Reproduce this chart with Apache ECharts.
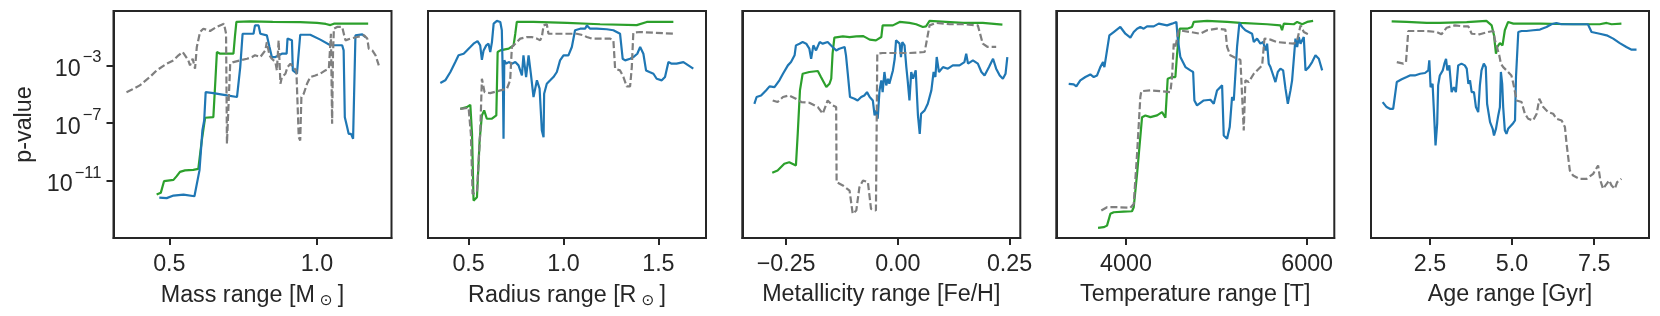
<!DOCTYPE html>
<html><head><meta charset="utf-8">
<script src="https://cdn.jsdelivr.net/npm/echarts@6/dist/echarts.min.js"></script>
<style>html,body{margin:0;padding:0;background:#fff}#c{width:1660px;height:316px}</style>
</head><body><div id="c"></div>
<script>
// y values are log10(p-value)
const massGreen = [[0.457,-11.98],[0.471,-11.86],[0.482,-11.05],[0.514,-10.96],[0.525,-10.7],[0.536,-10.4],[0.553,-10.3],[0.581,-10.26],[0.598,-10.2],[0.610,-8.2],[0.621,-6.64],[0.649,-6.6],[0.656,-4.0],[0.661,-2.07],[0.672,-2.19],[0.717,-2.19],[0.722,-1.0],[0.727,0.02],[0.774,0.06],[0.85,0.03],[0.943,0.0],[1.0,-0.05],[1.03,-0.12],[1.045,-0.2],[1.057,-0.1],[1.173,-0.1]];
const massBlue = [[0.466,-12.2],[0.491,-12.23],[0.514,-12.05],[0.548,-11.98],[0.585,-12.1],[0.602,-10.3],[0.612,-7.5],[0.618,-6.83],[0.623,-4.86],[0.649,-4.93],[0.695,-5.09],[0.729,-5.2],[0.74,-3.12],[0.748,-0.8],[0.785,-0.8],[0.79,-0.22],[0.802,-0.22],[0.808,-0.8],[0.83,-0.91],[0.839,-1.72],[0.847,-2.42],[0.859,-2.42],[0.864,-2.3],[0.881,-2.19],[0.897,-2.19],[0.9,-1.14],[0.915,-1.26],[0.918,-3.35],[0.932,-3.58],[0.938,-3.53],[0.943,-0.87],[0.977,-0.87],[1.011,-1.21],[1.045,-1.6],[1.085,-1.6],[1.09,-1.96],[1.094,-6.6],[1.102,-7.3],[1.107,-7.76],[1.115,-7.76],[1.122,-8.1],[1.127,-3.58],[1.13,-0.91],[1.153,-0.84],[1.164,-1.03]];
const massGray = [[0.355,-4.86],[0.372,-4.7],[0.4,-4.39],[0.434,-3.81],[0.457,-3.35],[0.491,-2.88],[0.514,-2.65],[0.531,-2.3],[0.545,-2.07],[0.553,-2.3],[0.564,-2.65],[0.57,-3.0],[0.579,-2.54],[0.587,-3.23],[0.593,-1.72],[0.604,-0.68],[0.615,-0.45],[0.638,-0.61],[0.66,-0.33],[0.685,-0.1],[0.692,-0.8],[0.695,-8.45],[0.7,-8.57],[0.706,-2.88],[0.717,-2.77],[0.74,-2.65],[0.763,-2.54],[0.78,-2.42],[0.79,-2.3],[0.808,-2.42],[0.825,-1.96],[0.83,-1.38],[0.839,-2.3],[0.847,-2.54],[0.859,-2.77],[0.864,-3.35],[0.87,-1.26],[0.876,-4.28],[0.881,-3.81],[0.893,-3.58],[0.9,-3.12],[0.91,-2.88],[0.918,-3.12],[0.93,-3.35],[0.938,-7.99],[0.943,-8.22],[0.947,-5.2],[0.955,-4.97],[0.966,-4.28],[0.977,-3.81],[0.994,-3.7],[1.011,-3.58],[1.028,-3.35],[1.04,-3.23],[1.047,-0.8],[1.051,-7.06],[1.054,-2.19],[1.057,-0.45],[1.068,-0.33],[1.085,-0.33],[1.096,-1.26],[1.113,-1.14],[1.136,-1.03],[1.159,-0.91],[1.17,-1.14],[1.175,-1.84],[1.187,-1.96],[1.198,-2.3],[1.209,-3.0]];

const radiusGreen = [[0.456,-6.02],[0.491,-5.9],[0.509,-5.74],[0.518,-7.76],[0.526,-12.4],[0.544,-12.17],[0.558,-8.22],[0.57,-6.48],[0.582,-6.13],[0.596,-6.71],[0.623,-6.71],[0.646,-6.48],[0.653,-2.07],[0.667,-1.96],[0.711,-1.84],[0.737,-1.61],[0.746,-0.8],[0.754,0.02],[0.842,0.02],[1.018,-0.05],[1.193,-0.14],[1.386,-0.2],[1.439,0.02],[1.579,0.02]];
const radiusBlue = [[0.351,-4.23],[0.377,-4.04],[0.404,-3.46],[0.43,-2.77],[0.447,-2.3],[0.474,-2.19],[0.491,-1.96],[0.509,-1.72],[0.526,-1.49],[0.547,-1.31],[0.561,-1.61],[0.57,-2.61],[0.579,-1.96],[0.593,-1.61],[0.605,-1.49],[0.614,-2.07],[0.623,-1.38],[0.632,-0.1],[0.649,0.09],[0.667,0.02],[0.675,-0.56],[0.681,-4.28],[0.684,-8.1],[0.688,-2.65],[0.698,-2.88],[0.711,-2.77],[0.728,-2.88],[0.746,-2.77],[0.763,-3.0],[0.781,-3.7],[0.789,-2.3],[0.803,-3.81],[0.816,-2.3],[0.828,-3.58],[0.842,-5.2],[0.86,-4.04],[0.874,-4.62],[0.886,-7.52],[0.895,-7.99],[0.898,-4.97],[0.912,-4.28],[0.93,-4.04],[0.947,-3.81],[0.965,-3.46],[0.982,-2.65],[1.0,-2.3],[1.026,-2.3],[1.044,-1.72],[1.061,-0.56],[1.088,-0.45],[1.114,-0.45],[1.123,-0.22],[1.14,-0.45],[1.175,-0.45],[1.228,-0.49],[1.263,-0.56],[1.298,-0.8],[1.312,-2.54],[1.325,-2.65],[1.351,-2.54],[1.368,-2.42],[1.389,-2.19],[1.404,-1.72],[1.421,-2.19],[1.435,-3.35],[1.453,-3.46],[1.474,-3.58],[1.491,-3.93],[1.518,-4.04],[1.535,-3.81],[1.553,-2.77],[1.57,-2.88],[1.596,-2.88],[1.632,-2.77],[1.658,-3.0],[1.684,-3.23]];
const radiusGray = [[0.456,-6.02],[0.5,-5.95],[0.512,-7.76],[0.521,-11.94],[0.544,-11.8],[0.561,-7.76],[0.57,-3.93],[0.579,-4.04],[0.584,-4.86],[0.614,-4.93],[0.667,-4.74],[0.702,-4.62],[0.719,-4.04],[0.728,-1.72],[0.754,-1.38],[0.772,-1.14],[0.807,-1.03],[0.833,-1.03],[0.86,-1.14],[0.877,-1.26],[0.886,-1.03],[0.895,-0.22],[0.912,-0.14],[0.921,-0.8],[0.947,-0.8],[1.018,-0.8],[1.07,-0.8],[1.105,-0.91],[1.123,-1.03],[1.149,-1.14],[1.193,-1.14],[1.246,-1.14],[1.263,-1.26],[1.272,-3.23],[1.298,-3.35],[1.316,-3.81],[1.333,-4.46],[1.351,-4.46],[1.36,-3.12],[1.368,-0.73],[1.404,-0.68],[1.474,-0.73],[1.579,-0.8]];

const metalGreen = [[-0.281,-10.47],[-0.269,-10.31],[-0.254,-9.84],[-0.243,-9.73],[-0.228,-9.96],[-0.224,-7.76],[-0.219,-4.74],[-0.213,-3.58],[-0.198,-3.46],[-0.179,-3.39],[-0.172,-3.81],[-0.16,-4.51],[-0.153,-4.28],[-0.149,-3.93],[-0.146,-2.19],[-0.142,-1.07],[-0.123,-0.98],[-0.108,-1.03],[-0.093,-0.98],[-0.078,-0.96],[-0.071,-1.07],[-0.063,-1.21],[-0.049,-1.26],[-0.037,-1.03],[-0.034,-0.22],[-0.011,-0.22],[0.004,0.02],[0.026,-0.05],[0.041,-0.14],[0.056,-0.33],[0.063,-0.29],[0.071,0.09],[0.108,0.02],[0.146,-0.05],[0.19,-0.05],[0.234,-0.17]];
const metalBlue = [[-0.321,-5.67],[-0.316,-5.2],[-0.306,-5.09],[-0.295,-4.74],[-0.287,-4.46],[-0.276,-4.51],[-0.265,-4.04],[-0.257,-3.58],[-0.246,-3.0],[-0.239,-2.77],[-0.231,-2.3],[-0.228,-1.61],[-0.22,-1.49],[-0.213,-1.38],[-0.205,-1.49],[-0.198,-1.84],[-0.194,-2.54],[-0.189,-1.61],[-0.183,-1.96],[-0.175,-1.38],[-0.168,-1.49],[-0.157,-1.38],[-0.146,-1.72],[-0.138,-1.96],[-0.131,-1.84],[-0.119,-1.72],[-0.116,-2.3],[-0.112,-3.58],[-0.107,-5.2],[-0.097,-5.32],[-0.09,-5.44],[-0.082,-5.2],[-0.075,-5.09],[-0.069,-4.86],[-0.063,-5.2],[-0.056,-5.44],[-0.052,-6.48],[-0.049,-6.13],[-0.045,-6.71],[-0.041,-4.74],[-0.037,-4.04],[-0.034,-4.86],[-0.03,-3.46],[-0.026,-4.39],[-0.022,-3.93],[-0.019,-4.28],[-0.011,-3.35],[-0.007,-2.54],[-0.004,-1.26],[0.004,-1.49],[0.007,-2.42],[0.01,-1.38],[0.015,-1.61],[0.019,-3.12],[0.022,-4.04],[0.026,-5.44],[0.03,-3.46],[0.034,-3.93],[0.04,-3.35],[0.045,-6.48],[0.049,-7.76],[0.052,-6.36],[0.06,-6.13],[0.067,-5.67],[0.075,-4.74],[0.08,-3.46],[0.084,-3.81],[0.087,-2.42],[0.092,-3.46],[0.101,-3.12],[0.112,-3.23],[0.123,-3.0],[0.138,-3.0],[0.149,-2.77],[0.153,-2.19],[0.157,-2.88],[0.168,-2.65],[0.179,-2.88],[0.187,-3.46],[0.194,-3.7],[0.204,-3.12],[0.213,-2.54],[0.22,-3.23],[0.228,-3.7],[0.235,-3.93],[0.241,-3.58],[0.245,-2.42]];
const metalGray = [[-0.28,-5.44],[-0.269,-5.55],[-0.257,-5.2],[-0.243,-5.09],[-0.228,-5.32],[-0.216,-5.55],[-0.198,-5.6],[-0.179,-5.9],[-0.168,-6.36],[-0.157,-5.44],[-0.146,-5.78],[-0.138,-5.9],[-0.137,-11.12],[-0.123,-11.35],[-0.108,-11.7],[-0.101,-13.32],[-0.093,-13.09],[-0.086,-11.47],[-0.078,-11.0],[-0.067,-11.12],[-0.063,-12.17],[-0.06,-12.98],[-0.049,-13.09],[-0.046,-2.19],[-0.034,-2.14],[-0.004,-2.14],[0.026,-2.14],[0.06,-2.07],[0.071,-0.22],[0.086,-0.05],[0.116,-0.14],[0.146,-0.14],[0.179,-0.22],[0.19,-1.49],[0.201,-1.72],[0.22,-1.72]];

const tempGreen = [[3691,-14.3],[3753,-14.25],[3790,-14.14],[3827,-13.32],[3864,-13.21],[3974,-13.16],[4066,-13.14],[4085,-12.86],[4122,-10.54],[4177,-6.6],[4214,-6.48],[4269,-6.6],[4343,-6.48],[4398,-6.25],[4435,-6.64],[4460,-3.93],[4508,-3.81],[4545,-3.81],[4564,-2.19],[4593,-0.45],[4674,-0.45],[4729,-0.33],[4748,0.02],[4895,0.09],[5116,0.02],[5263,-0.05],[5558,-0.14],[5705,-0.22],[5723,-0.56],[5742,-0.1],[5853,-0.14],[5890,0.02],[5945,-0.14],[6000,0.02],[6066,0.09]];
const tempBlue = [[3367,-4.28],[3422,-4.32],[3451,-4.46],[3495,-4.04],[3551,-3.81],[3606,-3.63],[3643,-3.81],[3680,-3.7],[3716,-3.12],[3746,-2.77],[3761,-3.12],[3790,-1.96],[3816,-0.91],[3864,-0.68],[3937,-0.33],[3993,-0.8],[4048,-1.07],[4085,-0.68],[4122,-0.45],[4158,-0.33],[4195,-0.45],[4232,-0.29],[4306,-0.29],[4361,-0.1],[4453,-0.22],[4508,-0.1],[4556,0.02],[4571,-1.14],[4600,-2.42],[4656,-3.12],[4711,-3.35],[4741,-3.46],[4755,-5.44],[4784,-5.78],[4858,-5.44],[4932,-5.39],[4969,-5.67],[5005,-4.74],[5061,-4.39],[5079,-7.87],[5116,-8.1],[5145,-7.29],[5171,-5.2],[5190,-5.44],[5226,-1.72],[5252,-0.05],[5282,-0.33],[5318,-0.56],[5355,-0.68],[5392,-0.8],[5411,-1.38],[5447,-1.14],[5484,-1.49],[5514,-1.38],[5540,-1.96],[5558,-1.49],[5576,-2.88],[5595,-3.12],[5613,-3.46],[5650,-4.16],[5676,-3.46],[5705,-3.23],[5735,-3.35],[5761,-4.62],[5787,-5.67],[5816,-4.74],[5834,-4.04],[5853,-3.93],[5871,-1.14],[5890,-1.72],[5908,-1.03],[5927,-1.49],[5945,-1.26],[5963,-1.03],[5982,-3.35],[6019,-3.12],[6055,-2.77],[6092,-2.3],[6129,-2.54],[6147,-2.65],[6166,-3.35]];
const tempGray = [[3727,-13.09],[3790,-12.86],[3901,-12.86],[4048,-12.9],[4085,-12.63],[4122,-9.15],[4158,-5.2],[4169,-4.79],[4269,-4.74],[4379,-4.79],[4490,-4.86],[4508,-3.81],[4527,-1.49],[4545,-1.72],[4582,-0.56],[4600,-0.56],[4711,-0.68],[4821,-0.8],[4895,-0.56],[5005,-0.45],[5097,-0.51],[5116,-1.72],[5152,-2.3],[5226,-2.54],[5263,-2.61],[5282,-2.65],[5300,-7.52],[5318,-4.04],[5355,-4.16],[5411,-3.58],[5466,-3.23],[5503,-3.0],[5529,-1.14],[5595,-1.21],[5668,-1.38],[5779,-1.45],[5853,-1.49],[5890,-1.26],[5927,-0.22],[5963,-0.68],[6000,-0.8],[6029,-0.87]];

const ageGreen = [[1.334,0.06],[1.79,0.02],[2.4,-0.05],[2.8,-0.05],[3.62,0.0],[4.22,0.09],[4.38,-0.22],[4.45,-0.91],[4.51,-2.19],[4.55,-1.72],[4.63,-1.45],[4.71,-1.61],[4.78,-0.56],[4.88,0.02],[5.04,-0.1],[5.85,-0.1],[6.86,-0.14],[7.67,-0.14],[7.88,-0.05],[8.03,-0.14],[8.33,-0.1]];
const ageBlue = [[1.06,-5.55],[1.18,-5.9],[1.28,-6.02],[1.38,-6.02],[1.49,-4.16],[1.64,-3.97],[1.79,-3.81],[1.89,-3.7],[2.04,-3.7],[2.2,-3.58],[2.35,-3.53],[2.45,-3.35],[2.48,-2.65],[2.52,-4.51],[2.58,-4.28],[2.62,-6.13],[2.67,-8.57],[2.72,-7.06],[2.75,-4.39],[2.8,-3.7],[2.89,-3.35],[2.94,-2.88],[2.99,-2.54],[3.03,-3.35],[3.09,-3.0],[3.16,-4.86],[3.23,-4.51],[3.29,-4.86],[3.33,-4.74],[3.36,-3.0],[3.46,-2.88],[3.56,-3.0],[3.62,-3.23],[3.67,-4.28],[3.72,-4.04],[3.77,-4.86],[3.84,-4.86],[3.9,-5.9],[3.97,-6.25],[4.02,-4.39],[4.07,-3.35],[4.14,-2.88],[4.2,-3.12],[4.24,-5.67],[4.33,-6.94],[4.41,-7.41],[4.45,-7.87],[4.51,-7.41],[4.58,-6.48],[4.63,-5.9],[4.66,-3.46],[4.7,-4.28],[4.73,-5.9],[4.78,-7.52],[4.83,-7.76],[4.88,-7.41],[4.93,-7.52],[5.02,-7.06],[5.09,-6.83],[5.12,-3.81],[5.19,-0.68],[5.29,-0.61],[5.44,-0.61],[5.64,-0.56],[5.85,-0.51],[6.05,-0.33],[6.2,-0.14],[6.35,-0.05],[6.5,-0.14],[6.86,-0.14],[7.31,-0.14],[7.42,-0.68],[7.67,-0.8],[7.88,-0.91],[8.08,-1.14],[8.28,-1.45],[8.48,-1.72],[8.64,-1.91],[8.79,-1.91]];
const ageGray = [[1.49,-2.77],[1.69,-2.88],[1.77,-2.77],[1.84,-0.61],[2.09,-0.61],[2.4,-0.61],[2.7,-0.68],[2.85,-0.84],[3.01,-0.38],[3.26,-0.22],[3.51,-0.29],[3.67,-0.29],[3.77,-0.8],[4.02,-0.84],[4.27,-0.68],[4.43,-0.61],[4.48,-1.26],[4.61,-2.3],[4.66,-2.88],[4.73,-3.12],[4.88,-3.46],[4.98,-3.7],[5.04,-4.28],[5.14,-5.44],[5.29,-5.55],[5.39,-6.36],[5.49,-6.71],[5.64,-6.83],[5.75,-6.36],[5.83,-5.32],[5.95,-5.9],[6.1,-6.25],[6.25,-6.36],[6.35,-6.71],[6.51,-6.83],[6.61,-7.29],[6.66,-8.45],[6.76,-10.31],[6.86,-10.66],[7.06,-10.89],[7.27,-10.89],[7.47,-10.54],[7.62,-9.96],[7.69,-11.0],[7.77,-11.58],[7.88,-11.24],[7.96,-11.0],[8.03,-11.35],[8.13,-11.58],[8.2,-11.12],[8.33,-10.89]];

const yTickExponents = [-11, -7, -3];
const massTicks = [0.5, 1.0];
const radiusTicks = [0.5, 1.0, 1.5];
const metalTicks = [-0.25, 0.0, 0.25];
const tempTicks = [4000, 6000];
const ageTicks = [2.5, 5.0, 7.5];
const axisTitles = ['Mass range [M{sun|⊙}]', 'Radius range [R{sun|⊙}]', 'Metallicity range [Fe/H]', 'Temperature range [T]', 'Age range [Gyr]'];

const FONT = '"Liberation Sans", Arial, Helvetica, sans-serif';
const INK = '#262626';
const FS = 23.3;
const panels = [
  {green: massGreen, blue: massBlue, gray: massGray, ticks: massTicks, min: 0.311, max: 1.252, fmt: v => v.toFixed(1)},
  {green: radiusGreen, blue: radiusBlue, gray: radiusGray, ticks: radiusTicks, min: 0.286, max: 1.751, fmt: v => v.toFixed(1)},
  {green: metalGreen, blue: metalBlue, gray: metalGray, ticks: metalTicks, min: -0.348, max: 0.274, fmt: v => v.toFixed(2).replace('-', '\u2212')},
  {green: tempGreen, blue: tempBlue, gray: tempGray, ticks: tempTicks, min: 3230, max: 6300, fmt: v => String(Math.round(v))},
  {green: ageGreen, blue: ageBlue, gray: ageGray, ticks: ageTicks, min: 0.705, max: 9.17, fmt: v => v.toFixed(1)}
];
const lefts = [113.5, 428, 742.3, 1056.3, 1371];

const grid = [], xAxis = [], yAxis = [], series = [];
panels.forEach((p, i) => {
  grid.push({left: lefts[i], top: 11, width: 278, height: 227, show: true, borderColor: INK, borderWidth: 2, backgroundColor: 'transparent'});
  xAxis.push({
    type: 'value', gridIndex: i, min: p.min, max: p.max,
    axisLine: {show: true, onZero: false, lineStyle: {color: INK, width: 2}},
    axisTick: {show: true, customValues: p.ticks, length: 7, lineStyle: {color: INK, width: 2}},
    axisLabel: {customValues: p.ticks, formatter: p.fmt, color: INK, fontSize: FS, fontFamily: FONT, margin: 15},
    splitLine: {show: false},
    name: axisTitles[i], nameLocation: 'middle', nameGap: 45,
    nameTextStyle: {color: INK, fontSize: FS, fontFamily: FONT,
      rich: {sun: {fontSize: 15.5, fontFamily: 'DejaVu Sans', color: INK, padding: [10, 5, 0, 5]}}}
  });
  const first = i === 0;
  yAxis.push({
    type: 'value', gridIndex: i, min: -15, max: 0.78,
    axisLine: {show: true, onZero: false, lineStyle: {color: INK, width: 2}},
    axisTick: {show: first, customValues: yTickExponents, length: 7, lineStyle: {color: INK, width: 2}},
    axisLabel: {show: first, customValues: yTickExponents, margin: 12, color: INK, fontFamily: FONT,
      formatter: v => '{b|10}{s|\u2212' + Math.abs(Math.round(v)) + '}',
      rich: {
        b: {fontSize: FS, fontFamily: FONT, color: INK, verticalAlign: 'bottom', lineHeight: 32},
        s: {fontSize: 16.5, fontFamily: FONT, color: INK, verticalAlign: 'top', lineHeight: 16, padding: [0, 0, 0, 2]}
      }},
    splitLine: {show: false},
    name: first ? 'p-value' : '', nameLocation: 'middle', nameGap: 77, nameRotate: 90,
    nameTextStyle: {color: INK, fontSize: FS, fontFamily: FONT}
  });
  const mk = (data, color, dashed) => ({
    type: 'line', xAxisIndex: i, yAxisIndex: i, data: data, showSymbol: false, symbol: 'none',
    lineStyle: {color: color, width: 2.2, type: dashed ? [7, 3] : 'solid'}, itemStyle: {color: color},
    animation: false, silent: true, clip: true
  });
  series.push(mk(p.green, '#2ca02c', false));
  series.push(mk(p.blue, '#1f77b4', false));
  series.push(mk(p.gray, '#7f7f7f', true));
});

const chart = echarts.init(document.getElementById('c'), null, {renderer: 'canvas'});
chart.setOption({animation: false, backgroundColor: '#fff', grid, xAxis, yAxis, series});
</script>
</body></html>
